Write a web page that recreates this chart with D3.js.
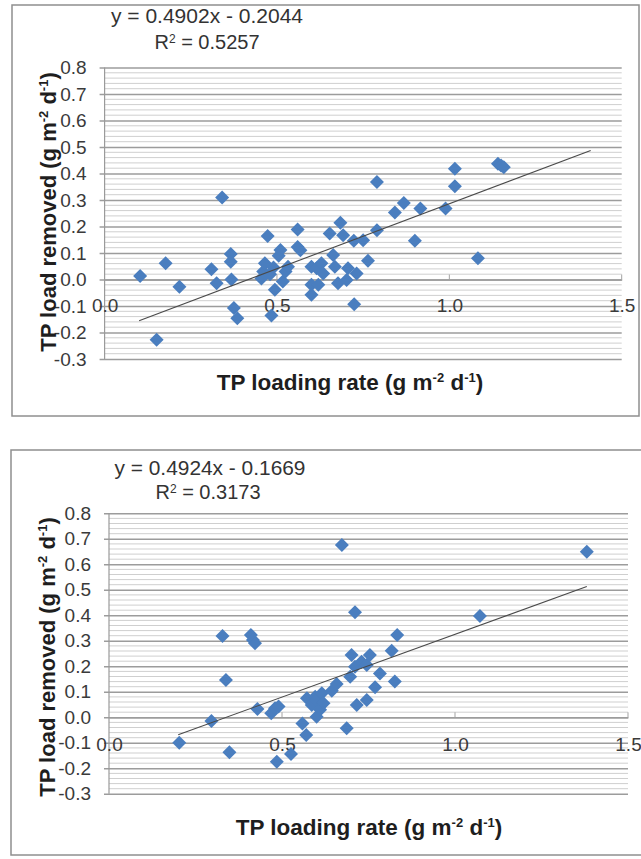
<!DOCTYPE html>
<html>
<head>
<meta charset="utf-8">
<script src="https://cdn.jsdelivr.net/npm/d3@7/dist/d3.min.js"></script>
<style>
  html, body { margin: 0; padding: 0; background: #fff; }
  svg { display: block; }
  text { font-family: "Liberation Sans", Arial, sans-serif; }
</style>
</head>
<body>
<svg id="chart" width="641" height="859"></svg>
<script>
// Total phosphorus: loading rate vs load removed, two data sets
const topPoints = [
  [0.103,0.013],[0.151,-0.227],[0.177,0.061],[0.217,-0.027],[0.31,0.039],[0.325,-0.014],
  [0.341,0.309],[0.366,0.096],[0.366,0.067],[0.368,0.0],[0.375,-0.108],[0.385,-0.146],
  [0.455,0.004],[0.46,0.03],[0.465,0.061],[0.473,0.164],[0.48,0.02],[0.484,-0.136],
  [0.49,0.045],[0.494,-0.039],[0.505,0.09],[0.51,0.111],[0.517,-0.008],[0.525,0.03],
  [0.532,0.048],[0.56,0.189],[0.56,0.123],[0.568,0.11],[0.6,0.048],[0.6,-0.02],
  [0.6,-0.058],[0.615,0.042],[0.62,-0.02],[0.629,0.061],[0.634,0.023],[0.653,0.174],
  [0.663,0.092],[0.668,0.048],[0.677,-0.014],[0.684,0.214],[0.692,0.167],[0.702,-0.002],
  [0.706,0.042],[0.723,0.146],[0.724,-0.093],[0.731,0.023],[0.75,0.148],[0.764,0.071],
  [0.79,0.186],[0.79,0.368],[0.842,0.253],[0.868,0.289],[0.9,0.146],[0.916,0.268],
  [0.989,0.268],[1.016,0.418],[1.016,0.352],[1.083,0.08],[1.141,0.437],[1.15,0.43],
  [1.158,0.424]
];
const bottomPoints = [
  [0.203,-0.1],[0.296,-0.015],[0.328,0.319],[0.338,0.146],[0.348,-0.137],[0.41,0.323],
  [0.416,0.303],[0.422,0.29],[0.429,0.033],[0.469,0.016],[0.48,0.035],[0.49,0.042],
  [0.485,-0.174],[0.526,-0.144],[0.559,-0.024],[0.57,-0.069],[0.572,0.075],[0.586,0.048],
  [0.6,0.002],[0.596,0.081],[0.6,0.068],[0.61,0.03],[0.615,0.094],[0.62,0.055],
  [0.644,0.104],[0.658,0.131],[0.673,0.676],[0.687,-0.043],[0.697,0.159],[0.701,0.244],
  [0.711,0.198],[0.711,0.412],[0.716,0.048],[0.73,0.218],[0.745,0.205],[0.745,0.068],
  [0.754,0.244],[0.769,0.118],[0.783,0.172],[0.817,0.261],[0.826,0.14],[0.833,0.323],
  [1.072,0.397],[1.381,0.649]
];

// Linear fits (slope, intercept, R², x-range of the fitted line)
const topFit = [0.4902, -0.2044, "0.5257", 0.1, 1.41];
const bottomFit = [0.4924, -0.1669, "0.3173", 0.2, 1.381];

// Axis extents and ticks
const xDomain = [0, 1.5];
const yDomain = [-0.3, 0.8];
const xTicks = [0.0, 0.5, 1.0, 1.5];
const yTicks = [-0.3, -0.2, -0.1, 0.0, 0.1, 0.2, 0.3, 0.4, 0.5, 0.6, 0.7, 0.8];

const svg = d3.select("#chart");
const BLUE = "#4a7ebf";

function drawPanel(points, fit, L) {
  const g = svg.append("g");

  // outer frame
  g.append("rect")
    .attr("x", L.frame[0]).attr("y", L.frame[1])
    .attr("width", L.frame[2]).attr("height", L.frame[3])
    .attr("fill", "#fff").attr("stroke", "#8f8f8f").attr("stroke-width", 1.5);

  const x = d3.scaleLinear().domain(xDomain).range([L.left, L.right]);
  const y = d3.scaleLinear().domain(yDomain).range([L.bottom, L.top]);

  // minor gridlines every 0.02
  const minor = d3.range(-15, 41).map(i => i * 0.02).filter(v => Math.abs(Math.round(v * 10) - v * 10) > 1e-6);
  g.append("g").selectAll("line").data(minor).join("line")
    .attr("x1", L.left).attr("x2", L.right)
    .attr("y1", d => y(d)).attr("y2", d => y(d))
    .attr("stroke", "#cfcfcf").attr("stroke-width", 1);

  // major gridlines, drawn through a d3 axis so they carry the outward tick marks
  const yAxis = d3.axisLeft(y).tickValues(yTicks).tickSize(-(L.right - L.left)).tickSizeOuter(0)
    .tickFormat(d3.format(".1f")).tickPadding(18);
  const ya = g.append("g").attr("transform", `translate(${L.left},0)`).call(yAxis);
  ya.select(".domain").remove();
  ya.selectAll(".tick line").attr("stroke", "#9c9c9c").attr("stroke-width", 1.4)
    .attr("x1", -5);
  ya.selectAll(".tick text").attr("x", -18)
    .attr("fill", "#3a3a3a").style("font-size", "19px")
    .text(d => d3.format(".1f")(d).replace("−", "-"));

  // vertical axis line
  g.append("line")
    .attr("x1", L.left).attr("x2", L.left)
    .attr("y1", y(yDomain[0])).attr("y2", y(yDomain[1]))
    .attr("stroke", "#9a9a9a").attr("stroke-width", 1.2);

  // horizontal axis at y = 0
  const xAxis = d3.axisBottom(x).tickValues(xTicks).tickSize(0).tickSizeOuter(0)
    .tickFormat(d3.format(".1f")).tickPadding(L.xLabelPad);
  const xa = g.append("g").attr("transform", `translate(0,${y(0)})`).call(xAxis);
  xa.select(".domain").attr("stroke", "#9c9c9c").attr("stroke-width", 1.4);
  xa.selectAll(".tick text").attr("fill", "#3a3a3a").style("font-size", "19px");
  g.append("g").selectAll("line").data(xTicks.slice(1)).join("line")
    .attr("x1", d => x(d)).attr("x2", d => x(d))
    .attr("y1", y(0) - 5).attr("y2", y(0))
    .attr("stroke", "#a3a3a3").attr("stroke-width", 1);

  // data markers (diamonds)
  const diamond = d3.symbol(d3.symbolSquare, 98);
  g.append("g").selectAll("path").data(points).join("path")
    .attr("d", diamond)
    .attr("transform", d => `translate(${x(d[0])},${y(d[1])}) rotate(45)`)
    .attr("fill", BLUE);

  // linear trendline
  const [slope, intercept, r2, x0, x1] = fit;
  g.append("line")
    .attr("x1", x(x0)).attr("y1", y(slope * x0 + intercept))
    .attr("x2", x(x1)).attr("y2", y(slope * x1 + intercept))
    .attr("stroke", "#4a4a4a").attr("stroke-width", 1.1);

  // regression equation
  const eq = `y = ${slope.toFixed(4)}x - ${Math.abs(intercept).toFixed(4)}`;
  g.append("text").attr("x", L.eq[0]).attr("y", L.eq[1])
    .attr("text-anchor", "middle").attr("fill", "#333").style("font-size", "20px")
    .attr("textLength", L.eq[2]).attr("lengthAdjust", "spacingAndGlyphs")
    .text(eq);
  const rt = g.append("text").attr("x", L.r2[0]).attr("y", L.r2[1])
    .attr("text-anchor", "middle").attr("fill", "#333").style("font-size", "20px");
  rt.append("tspan").text("R");
  rt.append("tspan").attr("dy", -6).style("font-size", "12px").text("2");
  rt.append("tspan").attr("dy", 6).text(` = ${r2}`);

  // axis titles
  function unitTitle(sel, lead) {
    sel.append("tspan").text(lead + " (g m");
    sel.append("tspan").attr("dy", -8).style("font-size", "13px").text("-2");
    sel.append("tspan").attr("dy", 8).text(" d");
    sel.append("tspan").attr("dy", -8).style("font-size", "13px").text("-1");
    sel.append("tspan").attr("dy", 8).text(")");
  }
  const xt = g.append("text").attr("x", L.xTitle[0]).attr("y", L.xTitle[1])
    .attr("text-anchor", "middle").attr("fill", "#1e1e1e")
    .style("font-size", "22.5px").style("font-weight", "bold");
  unitTitle(xt, "TP loading rate");

  const yt = g.append("text")
    .attr("transform", `translate(${L.yTitle[0]},${L.yTitle[1]}) rotate(-90)`)
    .attr("text-anchor", "middle").attr("fill", "#1e1e1e")
    .style("font-size", "22px").style("font-weight", "bold");
  unitTitle(yt, "TP load removed");
}

drawPanel(topPoints, topFit, {
  frame: [12, 5, 627, 411],
  left: 104.6, right: 621.7, top: 67.5, bottom: 359,
  xLabelPad: 19,
  eq: [207, 23, 192], r2: [207, 49],
  xTitle: [350, 390], yTitle: [56, 212]
});

drawPanel(bottomPoints, bottomFit, {
  frame: [11, 450, 632, 405],
  left: 109, right: 628, top: 513.3, bottom: 793.8,
  xLabelPad: 20,
  eq: [210, 475, 191], r2: [208, 499],
  xTitle: [369, 835], yTitle: [55, 657]
});
</script>
</body>
</html>
